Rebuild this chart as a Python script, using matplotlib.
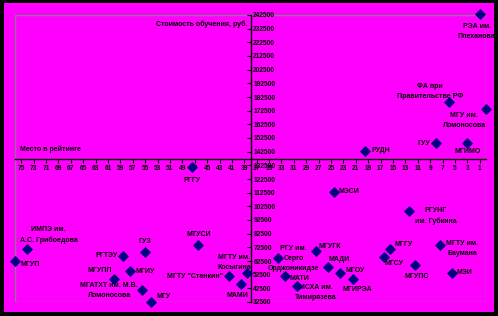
import matplotlib
matplotlib.use("Agg")
import matplotlib.pyplot as plt
from matplotlib.patches import Rectangle

plt.rcParams["font.family"] = ["Liberation Sans", "DejaVu Sans"]
plt.rcParams["font.size"] = 5
plt.rcParams["font.weight"] = "bold"

names = [
    "РЭА им.\nПлеханова", "ФА при\nПравительстве РФ", "МГУ им.\nЛомоносова", "ГУУ", "МГИМО",
    "РУДН", "РГГУ", "ИМПЭ им.\nА.С. Грибоедова", "МГУП", "ГУЗ", "РГТЭУ", "МГУПП", "МГИУ",
    "МГАТХТ им. М.В.\nЛомоносова", "МГУ", "МТУСИ", "МГТУ \"Станкин\"", "МАМИ",
    "МГТУ им.\nКосыгина", "РГУ им.\nСерго\nОрджоникидзе", "МАТИ", "МСХА им.\nТимирязева",
    "МГУГК", "МЭСИ", "МАДИ", "МГОУ", "МГИРЭА", "РГУНГ\nим. Губкина", "МГГУ", "МГСУ",
    "МГУПС", "МГТУ им.\nБаумана", "МЭИ",
]
rank = [
    1, 6, 0, 8, 3,
    19.5, 47.5, 74, 76, 55, 58.5, 60, 57.5,
    55.5, 54, 46.5, 41.5, 39.5,
    38.5, 33.5, 32.5, 30.5,
    27.5, 24.5, 25.5, 23.5, 21.5, 12.5, 15.5, 16.5,
    11.5, 7.5, 5.5,
]
cost = [
    243000, 178500, 173500, 148500, 148500,
    143000, 131000, 71000, 62500, 69000, 66500, 49500, 55500,
    41500, 32500, 74500, 51500, 45500,
    54000, 64500, 51500, 44000,
    70000, 113000, 58000, 54000, 49000, 99000, 71000, 65500,
    59500, 74000, 54000,
]
x_ticks = list(range(75, 0, -2))
y_ticks = list(range(32500, 242501, 10000))

# label placement: (dx, dy) in pixels, horizontal alignment
label_pos = {
    0: (-3, -17, "center"), 1: (-19, 11, "center"), 2: (-22, -11, "center"),
    3: (-6, 0, "right"), 4: (0, -8, "center"), 5: (6, 0, "left"), 6: (0, -13, "center"),
    7: (21, 14, "center"), 8: (5, -3, "left"), 9: (0, 11, "center"), 10: (-6, 0, "right"),
    11: (-2, 8, "right"), 12: (6, -1, "left"), 13: (-4, -1, "right"), 14: (5, 6, "left"),
    15: (1, 10, "center"), 16: (-6, 0, "right"), 17: (-4, -11, "center"),
    18: (-13, 10, "center"), 19: (15, 0, "center"), 20: (5, -2, "left"),
    21: (19, -6, "center"), 22: (3, 4, "left"), 23: (4, 0, "left"), 24: (11, 8, "center"),
    25: (5, 2, "left"), 26: (5, -10, "center"), 27: (27, -5, "center"), 28: (5, 5, "left"),
    29: (10, -7, "center"), 30: (2, -11, "center"), 31: (23, -3, "center"), 32: (5, 0, "left"),
}

fig = plt.figure(figsize=(4.98, 3.16), dpi=100, facecolor="black")
bg = fig.add_axes([4 / 498, 1 - 312 / 316, 490 / 498, 309 / 316], zorder=-10)
bg.set_facecolor("#ff00ff")
bg.axis("off")
bg.add_patch(Rectangle((0, 0), 1, 1, transform=bg.transAxes, facecolor="#ff00ff",
                       edgecolor="none"))

ax = fig.add_axes([15 / 498, 1 - 302 / 316, 471 / 498, 287 / 316])
ax.set_facecolor("#ff00ff")

ax.scatter(rank, cost, marker="D", s=22, color="#000080", zorder=5, clip_on=False)
for i, name in enumerate(names):
    dx, dy, ha = label_pos[i]
    ax.annotate(name, (rank[i], cost[i]), xytext=(dx, dy), textcoords="offset pixels",
                ha=ha, va="center", ma="center", fontsize=5, linespacing=1.6,
                annotation_clip=False)

ax.set_xlim(76, 0)
ax.set_ylim(32500, 242500)
ax.set_xticks(x_ticks)
ax.set_yticks(y_ticks)
ax.set_yticklabels([str(v) for v in y_ticks])

ax.spines["top"].set_visible(False)
ax.spines["left"].set_visible(False)
ax.spines["right"].set_position(("data", 38))
ax.spines["bottom"].set_position(("data", 137500))
ax.spines["right"].set_linewidth(1.0)
ax.spines["bottom"].set_linewidth(1.0)
ax.yaxis.tick_right()
ax.tick_params(axis="y", direction="in", length=3, width=0.8, pad=2, labelsize=4.8)
ax.tick_params(axis="x", direction="out", length=3, width=0.8, pad=2, labelsize=4.8)

ax.add_patch(Rectangle((0, 0), 1, 1, transform=ax.transAxes, fill=False,
                       edgecolor="#808080", linewidth=1.0, zorder=1))

ax.text(0.493, 0.969, "Стоимость обучения, руб.", transform=ax.transAxes,
        ha="right", va="center", fontsize=5)
ax.text(0.011, 0.532, "Место в рейтинге", transform=ax.transAxes,
        ha="left", va="center", fontsize=5)

fig.savefig("out.png", dpi=100, facecolor="black")
